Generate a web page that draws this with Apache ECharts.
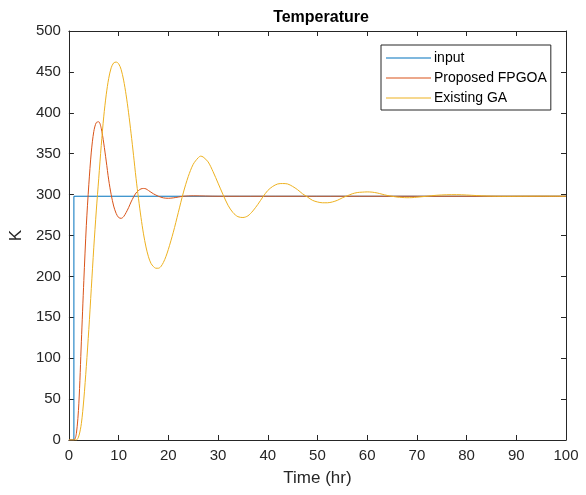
<!DOCTYPE html>
<html>
<head>
<meta charset="utf-8">
<script src="https://cdn.jsdelivr.net/npm/echarts@6/dist/echarts.min.js"></script>
<style>
  html, body { margin: 0; padding: 0; background: #fff; }
  #main { width: 586px; height: 495px; }
</style>
</head>
<body>
<div id="main"></div>
<script>
// values
const seriesNames = ["input", "Proposed FPGOA", "Existing GA"];
const xTicks = [0, 10, 20, 30, 40, 50, 60, 70, 80, 90, 100];
const yTicks = [0, 50, 100, 150, 200, 250, 300, 350, 400, 450, 500];

const inputTime = [0, 1, 1, 100];
const inputTemp = [0, 0, 298, 298];

const fpgoaTime = [0, 1, 1.5, 2, 2.5, 3, 3.5, 4, 4.5, 5, 5.5, 6, 6.5, 7, 7.5, 8, 8.5, 9, 9.5, 10, 10.5, 11, 11.5, 12, 12.5, 13, 13.5, 14, 14.5, 15, 15.5, 16, 17, 18, 19, 20, 21, 22, 23, 25, 30, 100];
const fpgoaTemp = [0, 0, 8, 45, 120, 195, 262, 312, 352, 377, 388, 389, 381, 363, 341, 318, 300, 286, 277, 272, 271, 273, 278, 284, 291, 297, 302, 305, 307, 307.5, 307, 305, 301, 298, 296, 295.5, 296, 297, 298, 298.5, 298, 298];

const gaTime = [0, 1, 1.5, 2, 2.5, 3, 3.5, 4, 4.5, 5, 5.5, 6, 6.5, 7, 7.5, 8, 8.5, 9, 9.5, 10, 10.5, 11, 11.5, 12, 12.5, 13, 13.5, 14, 14.5, 15, 15.5, 16, 16.5, 17, 17.5, 18, 18.5, 19, 19.5, 20, 21, 22, 23, 24, 25, 26, 26.5, 27, 28, 29, 30, 31, 32, 33, 34, 35, 36, 37, 38, 39, 40, 41, 42, 43, 44, 45, 46, 47, 48, 49, 50, 51, 52, 53, 54, 55, 56, 57, 58, 59, 60, 61, 62, 63, 64, 65, 66, 67, 68, 69, 70, 72, 74, 76, 78, 80, 82, 84, 86, 88, 90, 95, 100];
const gaTemp = [0, 0, 0, 5, 20, 50, 90, 135, 185, 235, 280, 320, 360, 395, 422, 442, 455, 461, 462, 460, 453, 440, 422, 400, 375, 348, 320, 295, 272, 252, 236, 224, 216, 212, 210, 210, 212, 217, 224, 233, 254, 278, 302, 322, 337, 345, 347, 346, 340, 328, 314, 300, 287, 278, 273, 272, 274, 280, 288, 297, 305, 310, 313, 313.5, 313, 310, 306, 301, 297, 293, 291, 290, 290, 291, 293, 296, 298.5, 301, 302.5, 303, 303.3, 303, 302, 300.5, 299, 298, 297, 296.5, 296.2, 296.3, 296.8, 298, 299.2, 299.8, 299.9, 299.5, 298.8, 298.3, 298, 297.9, 298, 298.1, 298];

const colors = ["#0072BD", "#D95319", "#EDB120"];

function pairs(xs, ys) {
  return xs.map((x, i) => [x, ys[i]]);
}

const axisColor = "#262626";
const font = "Liberation Sans, Arial, Helvetica, sans-serif";

function xAxisOpt(pos, showLabel) {
  return {
    type: "value",
    position: pos,
    min: 0,
    max: 100,
    interval: 10,
    name: showLabel ? "Time (hr)" : "",
    nameLocation: "middle",
    nameGap: 30,
    nameTextStyle: { color: axisColor, fontSize: 17, fontFamily: font },
    axisLine: { show: true, onZero: false, lineStyle: { color: axisColor, width: 1 } },
    axisTick: { show: true, inside: true, length: 5, lineStyle: { color: axisColor } },
    axisLabel: { show: showLabel, color: axisColor, fontSize: 15, fontFamily: font, margin: 8 },
    splitLine: { show: false }
  };
}

function yAxisOpt(pos, showLabel) {
  return {
    type: "value",
    position: pos,
    min: 0,
    max: 500,
    interval: 50,
    name: showLabel ? "K" : "",
    nameLocation: "middle",
    nameGap: 42,
    nameRotate: 90,
    nameTextStyle: { color: axisColor, fontSize: 17, fontFamily: font },
    axisLine: { show: true, onZero: false, lineStyle: { color: axisColor, width: 1 } },
    axisTick: { show: true, inside: true, length: 5, lineStyle: { color: axisColor } },
    axisLabel: { show: showLabel, color: axisColor, fontSize: 15, fontFamily: font, margin: 8 },
    splitLine: { show: false }
  };
}

function lineSeries(name, data, color) {
  return {
    name: name,
    type: "line",
    data: data,
    showSymbol: false,
    smooth: name === "input" ? false : 0.3,
    lineStyle: { color: color, width: 1 },
    itemStyle: { color: color },
    animation: false
  };
}

const chart = echarts.init(document.getElementById("main"), null, { renderer: "canvas" });
chart.setOption({
  animation: false,
  title: {
    text: "Temperature",
    left: 316,
    textAlign: "center",
    top: 5,
    textStyle: { color: "#000", fontSize: 16, fontWeight: "bold", fontFamily: font }
  },
  legend: {
    data: seriesNames,
    orient: "vertical",
    left: 381,
    top: 45,
    width: 166,
    itemWidth: 45,
    itemHeight: 1,
    itemGap: 6,
    padding: [6, 4, 5, 5],
    borderColor: axisColor,
    borderWidth: 1,
    backgroundColor: "#fff",
    icon: "rect",
    textStyle: { color: "#000", fontSize: 14, fontFamily: font, padding: [0, 0, 0, -2] }
  },
  grid: { left: 67, right: 20, top: 31, bottom: 55 },
  xAxis: [xAxisOpt("bottom", true), xAxisOpt("top", false)],
  yAxis: [yAxisOpt("left", true), yAxisOpt("right", false)],
  series: [
    lineSeries(seriesNames[0], pairs(inputTime, inputTemp), colors[0]),
    lineSeries(seriesNames[1], pairs(fpgoaTime, fpgoaTemp), colors[1]),
    lineSeries(seriesNames[2], pairs(gaTime, gaTemp), colors[2])
  ]
});
</script>
</body>
</html>
